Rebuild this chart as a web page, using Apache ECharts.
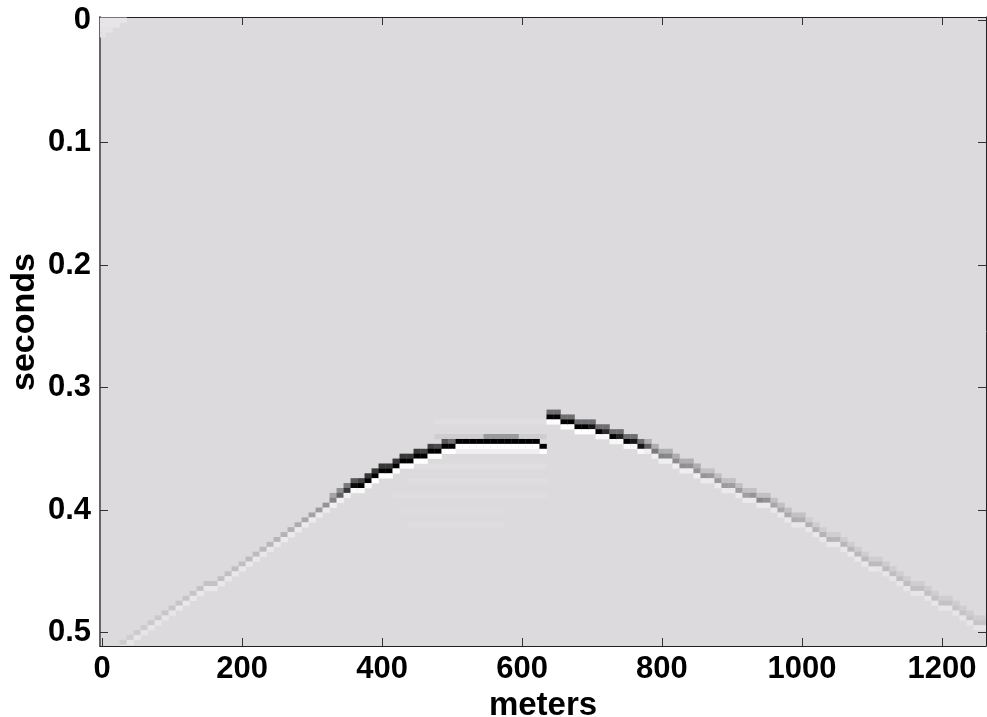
<!DOCTYPE html>
<html>
<head>
<meta charset="utf-8">
<script src="https://cdn.jsdelivr.net/npm/echarts@6/dist/echarts.min.js"></script>
<style>
html,body{margin:0;padding:0;background:#fff;}
#chart{width:987px;height:717px;}
</style>
</head>
<body>
<div id="chart"></div>
<script>
// ---------- data ----------
const X_TICKS = [0, 200, 400, 600, 800, 1000, 1200];
const Y_TICKS = [0, 0.1, 0.2, 0.3, 0.4, 0.5];
const TRACE_STEP = 10;      // meters between traces
const SAMPLE_STEP = 0.004;  // seconds between samples

// left (lower-left to apex) branch: trace position, peak time, peak amplitude,
// amplitude of the sample above the peak, amplitude of the trough below it
const leftX = [30,40,50,60,70,80,90,100,110,120,130,140,150,160,170,180,190,200,210,220,230,240,250,260,270,280,290,300,310,320,330,340,350,360,370,380,390,400,410,420,430,440,450,460,470,480,490,500,510,520,530,540,550,560,570,580,590,600,610,620,630];
const leftT = [0.508,0.504,0.500,0.496,0.492,0.488,0.484,0.480,0.476,0.472,0.468,0.464,0.460,0.460,0.456,0.452,0.448,0.444,0.440,0.436,0.432,0.428,0.424,0.420,0.416,0.412,0.408,0.404,0.400,0.396,0.392,0.388,0.384,0.380,0.380,0.376,0.372,0.368,0.368,0.364,0.360,0.360,0.356,0.356,0.352,0.352,0.348,0.348,0.344,0.344,0.344,0.344,0.344,0.344,0.344,0.344,0.344,0.344,0.344,0.344,0.348];
const leftPeak = [-0.06,-0.06,-0.07,-0.07,-0.08,-0.08,-0.09,-0.09,-0.10,-0.10,-0.10,-0.11,-0.11,-0.11,-0.12,-0.12,-0.13,-0.13,-0.14,-0.14,-0.15,-0.16,-0.17,-0.18,-0.19,-0.21,-0.23,-0.26,-0.29,-0.33,-0.40,-0.55,-0.75,-0.95,-1,-1,-1,-1,-1,-1,-1,-1,-1,-1,-1,-1,-1,-1,-1,-1,-1,-1,-1,-1,-1,-1,-1,-1,-1,-1,-1];
const leftUpper = [0,0,0,0,0,0,0,0,0,0,0,0,0,0,0,0,0,0,0,0,0,0,0,0,0,0,0,0,0,0,-0.25,-0.35,-0.45,-0.6,-0.7,-0.75,-0.75,-0.75,-0.75,-0.75,-0.75,-0.75,-0.75,-0.7,-0.7,-0.65,-0.6,-0.5,0,0,0,0,0,0,0,0,0,0,0,0,0];
const leftTrough = [0.3,0.3,0.3,0.3,0.3,0.3,0.3,0.3,0.35,0.35,0.35,0.35,0.35,0.35,0.35,0.35,0.35,0.35,0.35,0.35,0.35,0.35,0.35,0.45,0.45,0.45,0.45,0.45,0.45,0.45,0.6,0.6,0.6,0.85,0.85,0.85,1,1,1,1,1,1,1,1,1,1,1,1,1,1,1,1,1,1,1,1,1,1,1,1,1];

// right (descending) branch
const rightX = [640,650,660,670,680,690,700,710,720,730,740,750,760,770,780,790,800,810,820,830,840,850,860,870,880,890,900,910,920,930,940,950,960,970,980,990,1000,1010,1020,1030,1040,1050,1060,1070,1080,1090,1100,1110,1120,1130,1140,1150,1160,1170,1180,1190,1200,1210,1220,1230,1240,1250,1260];
const rightT = [0.324,0.324,0.328,0.328,0.332,0.332,0.332,0.336,0.336,0.340,0.340,0.344,0.344,0.348,0.348,0.352,0.356,0.356,0.360,0.364,0.364,0.368,0.372,0.372,0.376,0.380,0.380,0.384,0.388,0.388,0.392,0.392,0.396,0.400,0.404,0.408,0.408,0.412,0.416,0.420,0.424,0.424,0.428,0.432,0.436,0.440,0.444,0.444,0.448,0.452,0.456,0.460,0.464,0.464,0.468,0.472,0.476,0.476,0.480,0.484,0.488,0.492,0.492];
const rightPeak = [-1,-1,-1,-1,-1,-1,-0.9,-1,-0.8,-1,-0.85,-1,-0.9,-0.9,-0.55,-0.45,-0.40,-0.38,-0.36,-0.35,-0.34,-0.33,-0.32,-0.30,-0.30,-0.29,-0.28,-0.28,-0.27,-0.32,-0.38,-0.33,-0.24,-0.23,-0.22,-0.21,-0.20,-0.19,-0.18,-0.18,-0.17,-0.17,-0.16,-0.16,-0.15,-0.15,-0.14,-0.14,-0.14,-0.13,-0.13,-0.13,-0.12,-0.12,-0.12,-0.11,-0.11,-0.11,-0.10,-0.10,-0.10,-0.10,-0.10];
const rightUpper = [-0.5,-0.5,-0.5,-0.5,-0.5,-0.5,-0.5,-0.5,-0.5,-0.5,-0.5,-0.5,-0.5,-0.5,-0.2,-0.2,-0.2,-0.2,-0.2,-0.2,-0.2,-0.2,-0.12,-0.12,-0.12,-0.12,-0.12,-0.12,-0.12,-0.12,-0.12,-0.12,-0.12,-0.12,-0.12,-0.12,-0.12,-0.06,-0.06,-0.06,-0.06,-0.06,-0.06,-0.06,-0.06,-0.06,-0.06,-0.06,-0.06,-0.06,-0.06,-0.06,-0.06,-0.06,-0.06,-0.06,-0.06,-0.06,-0.06,-0.06,-0.06,-0.06,-0.06];
const rightTrough = [1,1,1,1,1,1,1,0.8,0.8,0.8,0.8,0.8,0.8,0.8,0.55,0.55,0.55,0.55,0.55,0.55,0.55,0.55,0.45,0.45,0.45,0.45,0.45,0.45,0.45,0.45,0.45,0.45,0.35,0.35,0.35,0.35,0.35,0.35,0.35,0.35,0.35,0.35,0.35,0.35,0.35,0.35,0.35,0.3,0.3,0.3,0.3,0.3,0.3,0.3,0.3,0.3,0.3,0.3,0.3,0.3,0.3,0.3,0.3];

// faint horizontal bands (ringing / halo): [fromX, toX, time, amplitude]
const bands = [
  [510, 620, 0.352, 0.55],
  [480, 630, 0.328, 0.12],
  [480, 630, 0.340, -0.06],
  [550, 590, 0.340, -0.30],
  [450, 630, 0.364, 0.10],
  [440, 630, 0.376, 0.08],
  [420, 630, 0.388, 0.07],
  [430, 570, 0.400, 0.06],
  [440, 570, 0.412, 0.05],
  [0, 30, 0.000, 0.30],
  [0, 20, 0.004, 0.30],
  [0, 10, 0.008, 0.25],
  [0, 0, 0.012, 0.20]
];

// ---------- build series data ----------
const cells = [];
function addBranch(xs, ts, upper, peak, trough) {
  xs.forEach((x, i) => {
    if (upper[i] !== 0) cells.push([x, ts[i] - SAMPLE_STEP, upper[i]]);
    cells.push([x, ts[i], peak[i]]);
    cells.push([x, ts[i] + SAMPLE_STEP, trough[i]]);
  });
}
addBranch(leftX, leftT, leftUpper, leftPeak, leftTrough);
addBranch(rightX, rightT, rightUpper, rightPeak, rightTrough);

const BASE = [220, 218, 221];
function shade(a) {
  let c;
  if (a < 0) c = BASE.map(v => Math.round(v * (1 + a)));
  else c = BASE.map(v => Math.round(v + (255 - v) * a));
  return 'rgb(' + c.join(',') + ')';
}

function clipTo(params, rect) {
  const cs = params.coordSys;
  return echarts.graphic.clipRectByRect(rect, {x: cs.x, y: cs.y, width: cs.width, height: cs.height});
}

function rectFor(params, api, xa, xb, t) {
  const p0 = api.coord([xa - TRACE_STEP / 2, t - SAMPLE_STEP / 2]);
  const p1 = api.coord([xb + TRACE_STEP / 2, t + SAMPLE_STEP / 2]);
  return clipTo(params, {
    x: Math.min(p0[0], p1[0]), y: Math.min(p0[1], p1[1]),
    width: Math.abs(p1[0] - p0[0]) + 0.3, height: Math.abs(p1[1] - p0[1]) + 0.3
  });
}

function renderCell(params, api) {
  const x = api.value(0), t = api.value(1), a = api.value(2);
  const r = rectFor(params, api, x, x, t);
  if (!r) return null;
  return {type: 'rect', shape: r, style: {fill: shade(a)}};
}

function renderBand(params, api) {
  const x0 = api.value(0), x1 = api.value(1), t = api.value(2), a = api.value(3);
  const r = rectFor(params, api, x0, x1, t);
  if (!r) return null;
  return {type: 'rect', shape: r, style: {fill: shade(a)}};
}

const FONT = "'Liberation Sans', Arial, Helvetica, sans-serif";
const tickFont = {fontSize: 31, fontWeight: 'bold', color: '#000', fontFamily: FONT};

const chart = echarts.init(document.getElementById('chart'), null, {renderer: 'canvas'});
chart.setOption({
  animation: false,
  backgroundColor: '#ffffff',
  grid: {left: 100, top: 17, width: 886, height: 629, show: true, backgroundColor: '#dcdadd', borderWidth: 0,
         containLabel: false, outerBoundsMode: 'none'},
  xAxis: [{
    type: 'value', min: -3, max: 1263, position: 'bottom',
    axisLine: {show: true, onZero: false, lineStyle: {color: '#222', width: 1}},
    axisTick: {show: true, inside: true, length: 8, customValues: X_TICKS, lineStyle: {color: '#333'}},
    axisLabel: Object.assign({customValues: X_TICKS, margin: 8, formatter: v => String(v)}, tickFont),
    splitLine: {show: false},
    name: 'meters', nameLocation: 'middle', nameGap: 33,
    nameTextStyle: {fontSize: 33, fontWeight: 'bold', color: '#000', fontFamily: FONT}
  }, {
    type: 'value', min: -3, max: 1263, position: 'top',
    axisLine: {show: true, onZero: false, lineStyle: {color: '#222', width: 1}},
    axisTick: {show: true, inside: true, length: 8, customValues: X_TICKS, lineStyle: {color: '#333'}},
    axisLabel: {show: false},
    splitLine: {show: false}
  }],
  yAxis: [{
    type: 'value', inverse: true, min: -0.00245, max: 0.511, position: 'left',
    axisLine: {show: true, onZero: false, lineStyle: {color: '#666', width: 2}},
    axisTick: {show: true, inside: true, length: 8, customValues: Y_TICKS, lineStyle: {color: '#333'}},
    axisLabel: Object.assign({customValues: Y_TICKS, margin: 9}, tickFont),
    splitLine: {show: false}
  }, {
    type: 'value', inverse: true, min: -0.00245, max: 0.511, position: 'right',
    axisLine: {show: true, onZero: false, lineStyle: {color: '#222', width: 1}},
    axisTick: {show: true, inside: true, length: 8, customValues: Y_TICKS, lineStyle: {color: '#333'}},
    axisLabel: {show: false},
    splitLine: {show: false}
  }],
  graphic: [{
    type: 'text', x: 25, y: 322, rotation: Math.PI / 2,
    style: {text: 'seconds', fontSize: 34, fontWeight: 'bold', fill: '#000', fontFamily: FONT,
            textAlign: 'center', textVerticalAlign: 'middle'}
  }],
  series: [{
    type: 'custom', xAxisIndex: 0, yAxisIndex: 0, silent: true,
    renderItem: renderBand, data: bands
  }, {
    type: 'custom', xAxisIndex: 0, yAxisIndex: 0, silent: true,
    renderItem: renderCell, data: cells
  }]
});
</script>
</body>
</html>
